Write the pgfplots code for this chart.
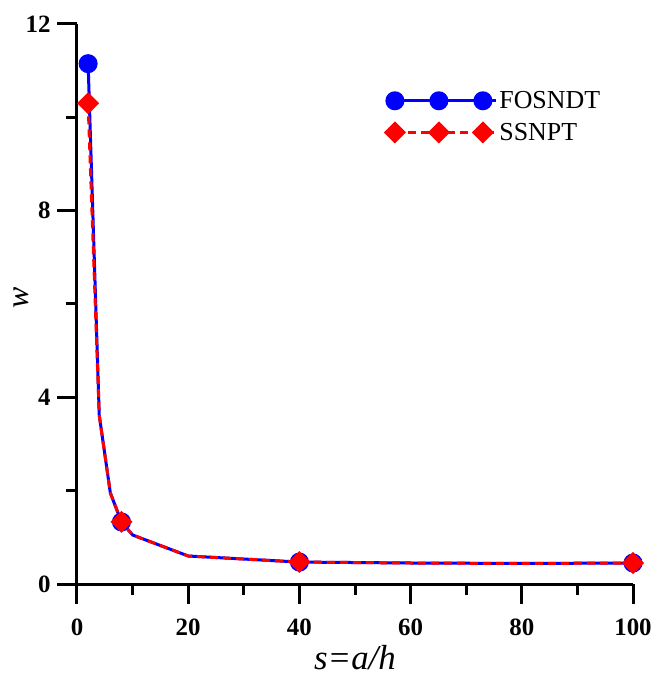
\documentclass[border=0pt]{standalone}
\usepackage{fontspec}
\setmainfont{Liberation Serif}
\usepackage{pgfplots}
\pgfplotsset{compat=1.18}
\begin{document}
\begin{tikzpicture}
\begin{axis}[
  scale only axis, width=556bp, height=560bp,
  xmin=0, xmax=100, ymin=0, ymax=12,
  axis lines*=left,
  xtick={0,20,...,100}, minor xtick={10,30,...,90},
  ytick={0,4,8,12}, minor ytick={2,6,10},
  tick align=outside, major tick length=20bp, minor tick length=11bp,
  tick style={black, line width=3bp},
  axis line style={line width=3bp},
  /pgf/number format/assume math mode=true,
  ticklabel style={font=\fontsize{25}{25}\selectfont\bfseries},
  xticklabel style={yshift=-11bp},
  yticklabel style={xshift=-3bp},
  xlabel={\textit{s=a/h}}, ylabel={\textit{w}},
  xlabel style={font=\fontsize{35}{35}\selectfont, at={(axis description cs:0.5,0)}, anchor=base, yshift=-85bp},
  ylabel style={font=\fontsize{32}{32}\selectfont, at={(axis description cs:0,0.5)}, anchor=center, yshift=56bp, xshift=6bp},
  clip=false,
  legend style={draw=none, fill=none, at={(0.55,0.887)}, anchor=north west,
    font=\fontsize{26}{26}\selectfont, row sep=9bp},
  legend cell align=left,
  legend image code/.code={\draw[#1, mark repeat=1, mark phase=1] plot coordinates {(0bp,0bp) (44bp,0bp) (88bp,0bp)};
    \path (0bp,0bp) -- (101bp,0bp);},
]
\addplot[blue, line width=3bp, mark=*, mark size=8bp, mark repeat=3, mark options={solid, fill=blue}]
coordinates {(2,11.15) (4,3.62) (6,1.95) (8,1.33) (10,1.05) (20,0.6) (40,0.47) (60,0.45) (80,0.44) (100,0.45)};
\addlegendentry{FOSNDT}
\addplot[red, line width=3bp, dash pattern=on 8bp off 5bp, mark=square*, mark size=6.3bp, mark repeat=3, mark options={solid, fill=red, rotate=45}]
coordinates {(2,10.3) (4,3.62) (6,1.95) (8,1.33) (10,1.05) (20,0.6) (40,0.47) (60,0.45) (80,0.44) (100,0.45)};
\addlegendentry{SSNPT}
\end{axis}
\pgfresetboundingbox
\useasboundingbox ([shift={(-77bp,-91bp)}]current axis.south west) rectangle ([shift={(21bp,24bp)}]current axis.north east);
\end{tikzpicture}
\end{document}
